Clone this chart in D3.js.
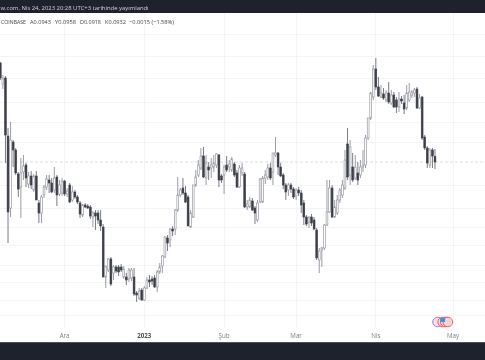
<!DOCTYPE html>
<html><head><meta charset="utf-8">
<script src="https://cdn.jsdelivr.net/npm/d3@7/dist/d3.min.js"></script>
<style>html,body{margin:0;padding:0;background:#fff;overflow:hidden}svg{display:block;filter:blur(0.45px)}text{font-family:"Open Sans","Noto Sans",sans-serif}</style>
</head><body><svg id="c" width="485" height="360"></svg>
<script>
// prices in 1/10000 USD, one daily candle each, first candle 6 Nov 2022
const highs=[1132,1106,1104,1000,1012,976,960,912,940,946,
930,912,914,908,914,856,866,886,906,906,
900,922,906,896,900,896,880,890,884,876,
866,854,848,850,848,846,834,836,836,836,
808,724,740,742,726,726,726,728,724,710,
720,720,720,674,680,680,684,702,706,704,
706,716,730,746,784,786,800,804,838,902,
880,900,884,866,836,886,916,936,960,962,
946,932,940,946,950,948,908,926,944,936,
942,932,916,926,930,912,856,862,860,844,
856,900,904,916,928,930,950,982,952,930,
910,890,890,890,882,880,882,876,856,826,
824,828,822,800,760,762,808,896,896,886,
856,866,880,896,956,1000,976,950,946,932,
936,956,986,1020,1072,1126,1140,1102,1086,1080,
1076,1092,1076,1072,1062,1072,1064,1066,1086,1090,
1076,1080,1082,1068,1064,986,964,960,960,958];
const lows=[1096,1078,930,770,822,922,906,862,820,896,
882,880,878,872,856,810,810,860,876,870,
870,870,844,864,864,864,862,850,852,858,
848,820,822,840,838,818,802,796,808,794,
702,680,712,684,696,710,704,712,698,686,
692,694,664,652,656,654,654,678,682,686,
680,672,708,710,740,754,762,784,786,832,
862,866,850,804,800,820,882,902,916,900,
886,896,900,912,920,882,890,868,912,912,
912,902,880,880,904,840,836,840,834,808,
812,850,850,888,896,896,886,942,906,902,
878,856,864,870,858,856,864,830,806,804,
800,804,796,736,710,722,756,804,830,820,
820,826,850,860,876,896,886,892,896,886,
900,912,920,976,1016,1056,1076,1062,1060,1056,
1052,1048,1046,1040,1030,1032,1048,1028,1036,1052,
1060,1062,1038,1038,976,956,920,920,920,918];
const opens=[1130,1088,1100,984,840,972,956,908,882,912,
926,888,904,876,904,850,830,866,882,896,
890,876,902,868,870,894,868,886,856,872,
862,850,826,846,844,842,822,830,830,816,
802,702,716,738,710,722,722,722,702,702,
698,700,702,670,660,676,656,680,696,698,
700,682,712,724,742,780,776,798,798,836,
866,880,870,862,802,822,886,906,920,944,
900,922,920,922,926,946,904,906,926,922,
916,928,910,882,910,908,842,842,854,840,
816,852,852,900,902,920,912,946,950,922,
906,886,876,886,878,864,876,870,850,822,
812,822,816,796,736,756,760,806,832,880,
822,830,856,866,880,968,906,922,900,910,
906,922,926,980,1020,1062,1118,1082,1062,1068,
1056,1070,1050,1066,1056,1042,1058,1050,1040,1056,
1066,1070,1078,1040,1062,982,960,926,956,943];
const closes=[1100,1098,986,832,976,956,910,878,910,924,
900,904,886,904,856,830,862,882,898,890,
872,900,866,886,894,868,874,852,872,862,
852,828,846,842,840,824,830,824,816,804,
702,724,738,688,722,714,712,716,718,696,
716,716,668,666,674,656,680,696,692,694,
682,712,722,744,782,770,798,794,836,866,
876,870,852,804,830,886,902,926,944,902,
930,916,926,930,948,896,896,922,916,928,
938,906,882,920,920,842,848,856,836,830,
850,898,900,906,920,900,950,950,922,904,
886,872,886,878,862,876,870,846,822,808,
820,810,798,740,754,760,806,832,880,822,
842,856,876,886,936,902,962,896,922,896,
922,926,980,1020,1070,1118,1082,1064,1070,1060,
1070,1052,1066,1042,1042,1058,1054,1038,1070,1072,
1072,1076,1040,1060,980,960,930,956,944,932];
const gridPrices=[1188,1144,1100,1052,1012,972,886,840,802,766,726,692,656,626];
const lastPrice=932;
const tickDates=["2022-12-01","2023-01-01","2023-02-01","2023-03-01","2023-04-01","2023-05-01"];
const tickLabels=["Ara","2023","Şub","Mar","Nis","May"];
const legendParts=["COINBASE","A0.0943","Y0.0958","D0.0918","K0.0932","−0.0015 (−1.58%)"];
const headerText="w.com, Nis 24, 2023 20:28 UTC+3 tarihinde yayımlandı";

const svg=d3.select("#c");
const parse=d3.utcParse("%Y-%m-%d");
const startDay=parse("2022-11-06");
const x=d3.scaleUtc().domain([startDay,parse("2023-05-01")]).range([0.3,453]);
const y=d3.scaleLinear().domain([1256,536]).range([0,360]);
const dayX=i=>x(d3.utcDay.offset(startDay,i));
const plotTop=13,plotBottom=328;

const defs=svg.append("defs");
defs.append("clipPath").attr("id","plot").append("rect").attr("x",0).attr("y",plotTop).attr("width",485).attr("height",plotBottom-plotTop);

const grid=svg.append("g").attr("stroke","#f3f4f7").attr("stroke-width",1).attr("shape-rendering","crispEdges");
grid.selectAll(".h").data(gridPrices).join("line").attr("class","h").attr("x1",0).attr("x2",485).attr("y1",d=>y(d)).attr("y2",d=>y(d));
grid.selectAll(".v").data(tickDates).join("line").attr("class","v").attr("x1",d=>x(parse(d))).attr("x2",d=>x(parse(d))).attr("y1",plotTop).attr("y2",plotBottom);

svg.append("line").attr("x1",0).attr("x2",485).attr("y1",y(lastPrice)).attr("y2",y(lastPrice))
  .attr("stroke","#dcdde1").attr("stroke-width",1).attr("stroke-dasharray","3 2");

const idx=d3.range(closes.length);
const plot=svg.append("g").attr("clip-path","url(#plot)");
const isUp=i=>closes[i]>=opens[i];
plot.selectAll(".w").data(idx).join("line").attr("class","w")
  .attr("x1",dayX).attr("x2",dayX).attr("y1",i=>y(highs[i])).attr("y2",i=>y(lows[i]))
  .attr("stroke",i=>isUp(i)?"#8e919b":"#6a6d78").attr("stroke-width",0.9);
plot.selectAll(".b").data(idx).join("rect").attr("class","b")
  .attr("x",i=>dayX(i)-0.9).attr("width",1.8)
  .attr("y",i=>y(Math.max(opens[i],closes[i])))
  .attr("height",i=>Math.max(0.8,Math.abs(y(opens[i])-y(closes[i]))))
  .attr("fill",i=>isUp(i)?"#fff":"#3c3f49")
  .attr("stroke",i=>isUp(i)?"#8b8e98":"#3c3f49").attr("stroke-width",0.6);

// header bars
svg.append("rect").attr("x",0).attr("y",0).attr("width",485).attr("height",13).attr("fill","#1e222d");
svg.append("rect").attr("x",0).attr("y",342).attr("width",485).attr("height",18).attr("fill","#1e222d");
svg.append("rect").attr("x",0).attr("y",342).attr("width",485).attr("height",1).attr("fill","#50535e");
svg.append("text").attr("x",0.5).attr("y",10).attr("font-size",5.9).attr("fill","#d1d4dc").text(headerText);

// legend
const legendX=[1,30,55,80,105,129];
const legendW=[25,21,21,21,21,45];
svg.append("g").selectAll("text").data(legendParts).join("text")
  .attr("x",(d,i)=>legendX[i]).attr("y",24).attr("font-size",5.8).attr("fill","#3f424c")
  .attr("textLength",(d,i)=>legendW[i]).attr("lengthAdjust","spacingAndGlyphs").text(d=>d);

// time axis labels
svg.append("g").selectAll("text").data(tickLabels).join("text")
  .attr("x",(d,i)=>x(parse(tickDates[i]))).attr("y",338).attr("text-anchor","middle")
  .attr("font-size",6.2).attr("font-weight",d=>d==="2023"?700:400)
  .attr("fill",d=>d==="2023"?"#4a4d57":"#7a7d88").text(d=>d);

// event markers near the last dates
const markers=[{d:"2023-04-25",c:"#b667d0"},{d:"2023-04-27",c:"#f05a5a"},{d:"2023-04-28",c:"#f05a5a"},{d:"2023-04-29",c:"#f05a5a"}];
const mg=svg.append("g");
mg.selectAll("circle").data(markers).join("circle")
  .attr("cx",m=>x(parse(m.d))).attr("cy",322).attr("r",4.8)
  .attr("fill","#fbd8d8").attr("fill-opacity",.7).attr("stroke",m=>m.c).attr("stroke-width",1);
mg.append("rect").attr("x",x(parse("2023-04-26"))).attr("y",318).attr("width",5).attr("height",4).attr("fill","#4a90d9");
</script></body></html>
